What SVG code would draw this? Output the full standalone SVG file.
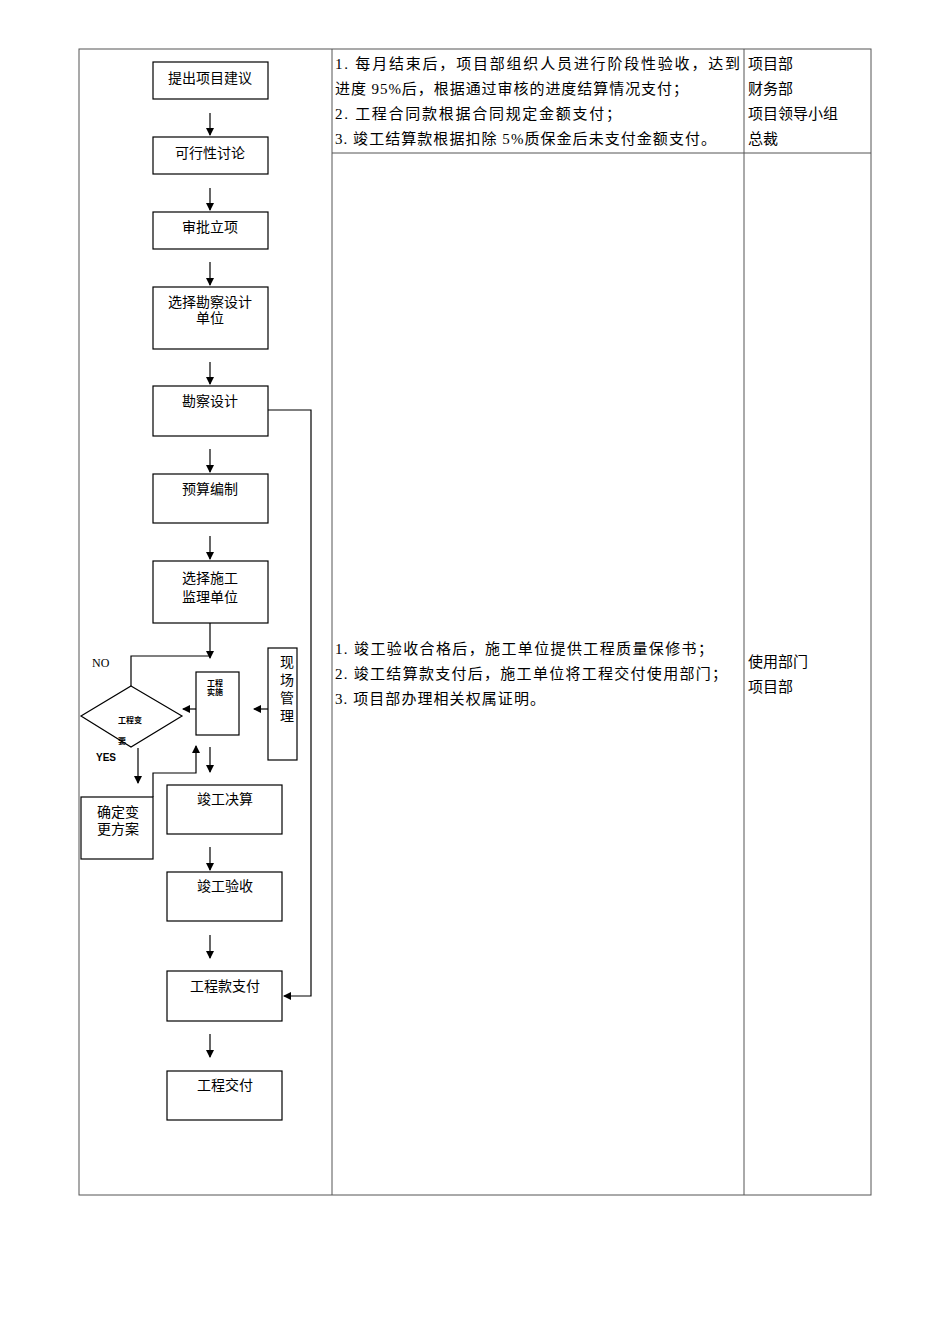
<svg xmlns="http://www.w3.org/2000/svg" width="950" height="1344" viewBox="0 0 950 1344">
<style>
.b{fill:#fff;stroke:#000;stroke-width:1.2}
.l{fill:none;stroke:#000;stroke-width:1.2}
.g{fill:none;stroke:#555;stroke-width:1}
text{font-family:"Liberation Serif","Noto Sans CJK SC",serif;fill:#000}
.t{font-size:14px;text-anchor:middle}
.c{font-size:15px}
.s{font-family:"Liberation Sans","Noto Sans CJK SC",sans-serif;font-size:8px;font-weight:bold}
</style>
<defs><marker id="a" markerWidth="8" markerHeight="8" refX="7" refY="4" orient="auto" markerUnits="userSpaceOnUse"><path d="M0,0L8,4L0,8z" fill="#000"/></marker></defs>
<rect width="950" height="1344" fill="#fff"/>
<g id="table">
<rect class="g" x="79" y="49" width="792" height="1146"/>
<line class="g" x1="332" y1="49" x2="332" y2="1195"/>
<line class="g" x1="744" y1="49" x2="744" y2="1195"/>
<line class="g" x1="332" y1="153" x2="871" y2="153"/>
<text class="c" x="335" y="69" textLength="405" lengthAdjust="spacing">1. 每月结束后，项目部组织人员进行阶段性验收，达到</text>
<text class="c" x="335" y="94" textLength="353" lengthAdjust="spacing">进度 95%后，根据通过审核的进度结算情况支付；</text>
<text class="c" x="335" y="119" textLength="286" lengthAdjust="spacing">2. 工程合同款根据合同规定金额支付；</text>
<text class="c" x="335" y="144" textLength="381" lengthAdjust="spacing">3. 竣工结算款根据扣除 5%质保金后未支付金额支付。</text>
<text class="c" x="748" y="69">项目部</text>
<text class="c" x="748" y="94">财务部</text>
<text class="c" x="748" y="119">项目领导小组</text>
<text class="c" x="748" y="144">总裁</text>
<text class="c" x="335" y="654" textLength="378" lengthAdjust="spacing">1. 竣工验收合格后，施工单位提供工程质量保修书；</text>
<text class="c" x="335" y="679" textLength="392" lengthAdjust="spacing">2. 竣工结算款支付后，施工单位将工程交付使用部门；</text>
<text class="c" x="335" y="704" textLength="210" lengthAdjust="spacing">3. 项目部办理相关权属证明。</text>
<text class="c" x="748" y="667">使用部门</text>
<text class="c" x="748" y="692">项目部</text>
</g>
<g id="n1"><rect class="b" x="153" y="62" width="115" height="37"/><text class="t" x="210" y="83">提出项目建议</text></g>
<g id="n2"><rect class="b" x="153" y="137" width="115" height="37"/><text class="t" x="210" y="158">可行性讨论</text></g>
<g id="n3"><rect class="b" x="153" y="212" width="115" height="37"/><text class="t" x="210" y="232">审批立项</text></g>
<g id="n4"><rect class="b" x="153" y="287" width="115" height="62"/><text class="t" x="210" y="307">选择勘察设计</text><text class="t" x="210" y="323">单位</text></g>
<g id="n5"><rect class="b" x="153" y="386" width="115" height="50"/><text class="t" x="210" y="406">勘察设计</text></g>
<g id="n6"><rect class="b" x="153" y="474" width="115" height="49"/><text class="t" x="210" y="494">预算编制</text></g>
<g id="n7"><rect class="b" x="153" y="561" width="115" height="62"/><text class="t" x="210" y="583">选择施工</text><text class="t" x="210" y="602">监理单位</text></g>
<g id="n8"><polygon class="b" points="131,686 182,716 131,747 81,716"/><text class="s" x="118" y="723">工程变</text><text class="s" x="118" y="744">要</text></g>
<g id="n9"><rect class="b" x="196" y="672" width="43" height="63"/><text class="s" x="207" y="686">工程</text><text class="s" x="207" y="695">实施</text></g>
<g id="n10"><rect class="b" x="268" y="648" width="29" height="112"/><text class="t" x="287" y="667">现</text><text class="t" x="287" y="685">场</text><text class="t" x="287" y="703">管</text><text class="t" x="287" y="721">理</text></g>
<g id="n11"><rect class="b" x="81" y="797" width="72" height="62"/><text class="t" x="118" y="817">确定变</text><text class="t" x="118" y="834">更方案</text></g>
<g id="n12"><rect class="b" x="167" y="785" width="115" height="49"/><text class="t" x="225" y="804">竣工决算</text></g>
<g id="n13"><rect class="b" x="167" y="872" width="115" height="49"/><text class="t" x="225" y="891">竣工验收</text></g>
<g id="n14"><rect class="b" x="167" y="971" width="115" height="50"/><text class="t" x="225" y="991">工程款支付</text></g>
<g id="n15"><rect class="b" x="167" y="1071" width="115" height="49"/><text class="t" x="225" y="1090">工程交付</text></g>
<g id="connectors">
<line class="l" x1="210" y1="113" x2="210" y2="135" marker-end="url(#a)"/>
<line class="l" x1="210" y1="188" x2="210" y2="210" marker-end="url(#a)"/>
<line class="l" x1="210" y1="262" x2="210" y2="285" marker-end="url(#a)"/>
<line class="l" x1="210" y1="362" x2="210" y2="384" marker-end="url(#a)"/>
<line class="l" x1="210" y1="449" x2="210" y2="472" marker-end="url(#a)"/>
<line class="l" x1="210" y1="536" x2="210" y2="559" marker-end="url(#a)"/>
<polyline class="l" points="268,410 311,410 311,996 284,996" marker-end="url(#a)"/>
<line class="l" x1="210" y1="623" x2="210" y2="658" marker-end="url(#a)"/>
<polyline class="l" points="131,686 131,656 210,656"/>
<line class="l" x1="196" y1="709" x2="183" y2="709" marker-end="url(#a)"/>
<line class="l" x1="268" y1="709" x2="254" y2="709" marker-end="url(#a)"/>
<line class="l" x1="138" y1="748" x2="138" y2="783" marker-end="url(#a)"/>
<polyline class="l" points="153,797 153,773 196,773 196,746" marker-end="url(#a)"/>
<line class="l" x1="210" y1="747" x2="210" y2="772" marker-end="url(#a)"/>
<line class="l" x1="210" y1="847" x2="210" y2="870" marker-end="url(#a)"/>
<line class="l" x1="210" y1="935" x2="210" y2="958" marker-end="url(#a)"/>
<line class="l" x1="210" y1="1034" x2="210" y2="1057" marker-end="url(#a)"/>
</g>
<text x="92" y="667" style="font-size:12px">NO</text>
<text x="96" y="761" style="font-family:'Liberation Sans',sans-serif;font-size:10px;font-weight:bold">YES</text>
</svg>
